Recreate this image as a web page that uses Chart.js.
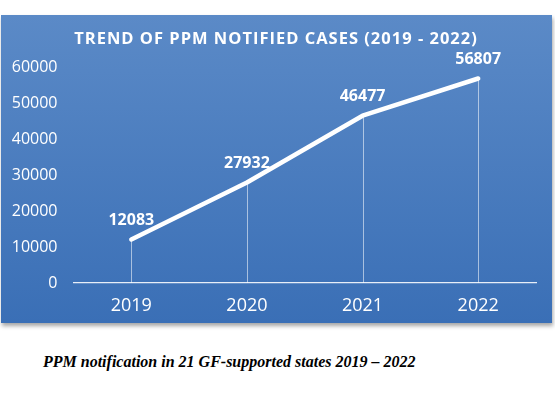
<!DOCTYPE html>
<html>
<head>
<meta charset="utf-8">
<script src="https://cdn.jsdelivr.net/npm/chart.js@4.4.1/dist/chart.umd.min.js"></script>
<style>
  body { margin: 0; background: #fff; width: 555px; height: 395px; overflow: hidden; }
  #wrap { position: absolute; left: 0; top: 0; width: 555px; height: 335px; }
  #caption {
    position: absolute; left: 43px; top: 353px;
    font-family: "Liberation Serif", "Times New Roman", serif;
    font-weight: bold; font-style: italic; font-size: 16px; color: #000;
  }
</style>
</head>
<body>
<div id="wrap"><canvas id="ppm-chart"></canvas></div>
<div id="caption">PPM notification in 21 GF-supported states 2019 – 2022</div>
<script>
const years = ["2019", "2020", "2021", "2022"];
const notifiedCases = [12083, 27932, 46477, 56807];
const yTicks = [0, 10000, 20000, 30000, 40000, 50000, 60000];
const chartTitle = "TREND OF PPM NOTIFIED CASES (2019 - 2022)";

// blue gradient panel behind the chart
const panelBg = {
  id: "panelBg",
  beforeDraw: function (chart) {
    const ctx = chart.ctx;
    ctx.save();
    ctx.shadowColor = "rgba(0,0,0,0.35)";
    ctx.shadowBlur = 4;
    ctx.shadowOffsetX = 1;
    ctx.shadowOffsetY = 3;
    const g = ctx.createLinearGradient(0, 15, 0, 323);
    g.addColorStop(0, "#5b8ac7");
    g.addColorStop(1, "#3a6fb6");
    ctx.fillStyle = g;
    ctx.fillRect(1, 15, 551, 308);
    ctx.restore();
  },
};

// spaced-out title (the built-in title has no letter spacing)
const spacedTitle = {
  id: "spacedTitle",
  afterDraw: function (chart) {
    const ctx = chart.ctx;
    ctx.save();
    ctx.fillStyle = "#ffffff";
    ctx.font = "bold 16.5px 'Open Sans'";
    ctx.letterSpacing = "1px";
    ctx.textAlign = "center";
    ctx.textBaseline = "middle";
    ctx.fillText(chartTitle, 276, 39);
    ctx.restore();
  },
};

// thin lines from each point down to the axis
const dropLines = {
  id: "dropLines",
  beforeDatasetsDraw: function (chart) {
    const ctx = chart.ctx;
    const bottom = chart.scales.y.getPixelForValue(0);
    ctx.save();
    ctx.strokeStyle = "rgba(255,255,255,0.55)";
    ctx.lineWidth = 1;
    chart.getDatasetMeta(0).data.forEach(function (pt) {
      ctx.beginPath();
      ctx.moveTo(Math.round(pt.x) + 0.5, pt.y);
      ctx.lineTo(Math.round(pt.x) + 0.5, bottom);
      ctx.stroke();
    });
    ctx.restore();
  },
};

// value labels above the points
const valueLabels = {
  id: "valueLabels",
  afterDatasetsDraw: function (chart) {
    const ctx = chart.ctx;
    ctx.save();
    ctx.fillStyle = "#ffffff";
    ctx.font = "bold 16px 'Open Sans'";
    ctx.textAlign = "center";
    ctx.textBaseline = "middle";
    chart.getDatasetMeta(0).data.forEach(function (pt, i) {
      ctx.fillText(String(notifiedCases[i]), pt.x, pt.y - 19);
    });
    ctx.restore();
  },
};

const ctx = document.getElementById("ppm-chart").getContext("2d");
new Chart(ctx, {
  type: "line",
  data: {
    labels: years,
    datasets: [
      {
        data: notifiedCases,
        borderColor: "#ffffff",
        borderWidth: 4.5,
        borderCapStyle: "round",
        borderJoinStyle: "round",
        pointRadius: 0,
        tension: 0,
      },
    ],
  },
  options: {
    responsive: true,
    maintainAspectRatio: false,
    animation: false,
    layout: { padding: { top: 67, right: 19, bottom: 12, left: 0 } },
    plugins: {
      legend: { display: false },
      tooltip: { enabled: false },
      title: { display: false },
    },
    scales: {
      x: {
        offset: true,
        grid: { display: false, drawTicks: false },
        border: { display: true, color: "#e8eef8", width: 1.2 },
        ticks: {
          color: "#ffffff",
          font: { family: "'Open Sans'", size: 18 },
          padding: 12,
        },
        afterFit: function (scale) { scale.height = 40; },
      },
      y: {
        min: 0,
        max: 60000,
        afterBuildTicks: function (scale) {
          scale.ticks = yTicks.map(function (v) { return { value: v }; });
        },
        grid: { display: false, drawTicks: false },
        border: { display: false },
        ticks: {
          color: "#ffffff",
          font: { family: "'Open Sans'", size: 16 },
          padding: 16,
          callback: function (v) { return String(v); },
        },
        afterFit: function (scale) { scale.width = 73.5; },
      },
    },
  },
  plugins: [panelBg, dropLines, valueLabels, spacedTitle],
});
</script>
</body>
</html>
